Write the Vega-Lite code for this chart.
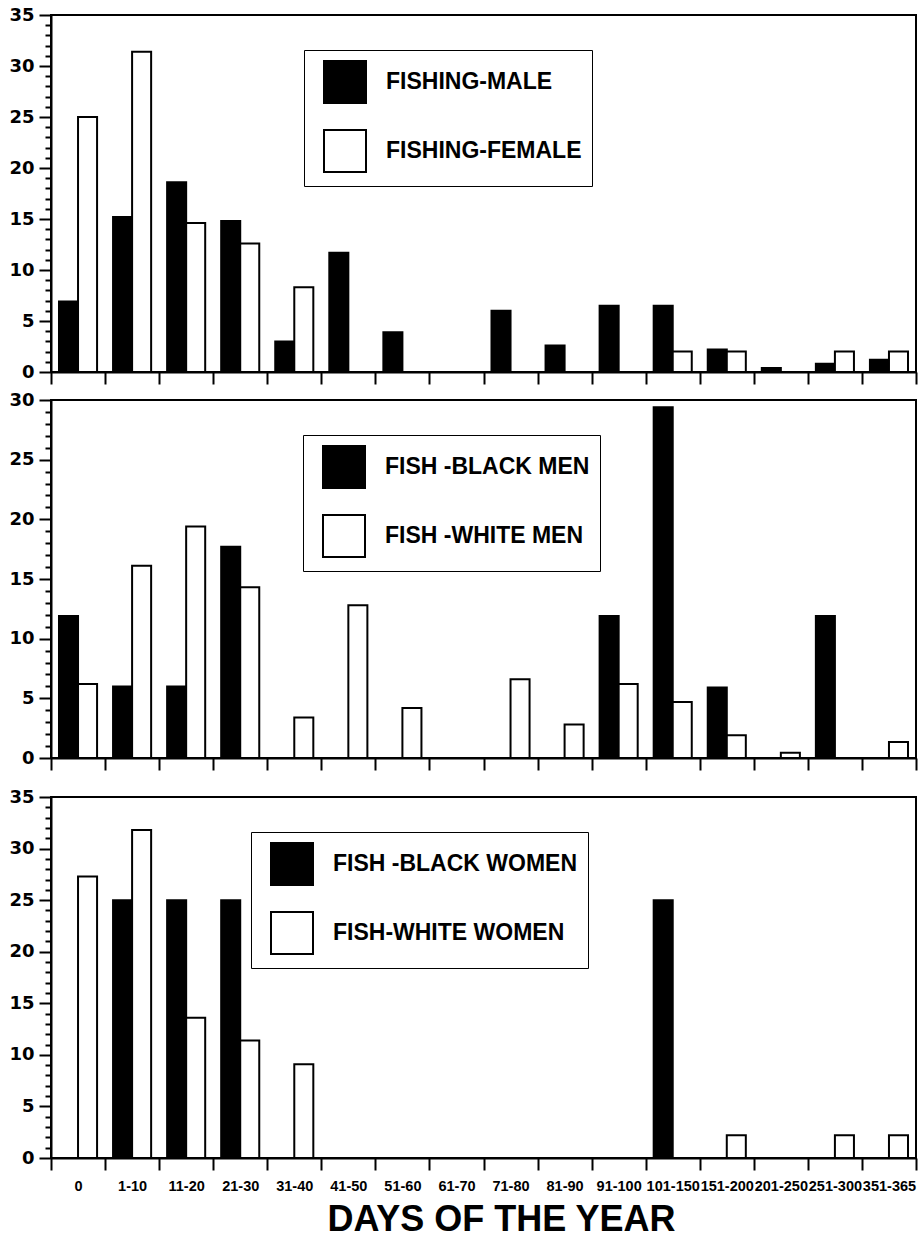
{
  "$schema": "https://vega.github.io/schema/vega-lite/v6.json",
  "padding": {"left": 7, "top": 5, "right": 0, "bottom": 0},
  "background": "white",
  "config": {
    "view": {"stroke": "black", "strokeWidth": 2},
    "bar": {"stroke": "black", "strokeWidth": 2},
    "axis": {"domainColor": "black", "domainWidth": 2, "tickColor": "black", "tickWidth": 2, "grid": false, "labelColor": "black", "titleColor": "black"},
    "axisY": {"labelFont": "DejaVu Sans", "labelFontWeight": "bold", "labelFontSize": 18, "labelPadding": 5},
    "axisX": {"labelFont": "Liberation Sans", "labelFontWeight": "bold", "labelFontSize": 14.5, "labelAngle": 0, "tickSize": 12, "labelPadding": 9, "tickBand": "extent", "titleFont": "Liberation Sans", "titleFontWeight": "bold", "titleFontSize": 36},
    "legend": {"orient": "none", "title": null, "symbolType": "square", "symbolSize": 1764, "symbolStrokeColor": "black", "symbolStrokeWidth": 2, "rowPadding": 19, "labelOffset": 19, "symbolOffset": 9, "padding": 10, "strokeColor": "black", "labelFont": "Liberation Sans", "labelFontWeight": "bold", "labelFontSize": 23, "labelColor": "black", "labelLimit": 500}
  },
  "datasets": {
    "p1": [
      {"days": "0", "series": "FISHING-MALE", "value": 6.9},
      {"days": "1-10", "series": "FISHING-MALE", "value": 15.2},
      {"days": "11-20", "series": "FISHING-MALE", "value": 18.6},
      {"days": "21-30", "series": "FISHING-MALE", "value": 14.8},
      {"days": "31-40", "series": "FISHING-MALE", "value": 3.0},
      {"days": "41-50", "series": "FISHING-MALE", "value": 11.7},
      {"days": "51-60", "series": "FISHING-MALE", "value": 3.9},
      {"days": "71-80", "series": "FISHING-MALE", "value": 6.0},
      {"days": "81-90", "series": "FISHING-MALE", "value": 2.6},
      {"days": "91-100", "series": "FISHING-MALE", "value": 6.5},
      {"days": "101-150", "series": "FISHING-MALE", "value": 6.5},
      {"days": "151-200", "series": "FISHING-MALE", "value": 2.2},
      {"days": "201-250", "series": "FISHING-MALE", "value": 0.4},
      {"days": "251-300", "series": "FISHING-MALE", "value": 0.8},
      {"days": "351-365", "series": "FISHING-MALE", "value": 1.2},
      {"days": "0", "series": "FISHING-FEMALE", "value": 25.0},
      {"days": "1-10", "series": "FISHING-FEMALE", "value": 31.4},
      {"days": "11-20", "series": "FISHING-FEMALE", "value": 14.6},
      {"days": "21-30", "series": "FISHING-FEMALE", "value": 12.6},
      {"days": "31-40", "series": "FISHING-FEMALE", "value": 8.3},
      {"days": "101-150", "series": "FISHING-FEMALE", "value": 2.0},
      {"days": "151-200", "series": "FISHING-FEMALE", "value": 2.0},
      {"days": "251-300", "series": "FISHING-FEMALE", "value": 2.0},
      {"days": "351-365", "series": "FISHING-FEMALE", "value": 2.0}
    ],
    "p2": [
      {"days": "0", "series": "FISH -BLACK MEN", "value": 11.9},
      {"days": "1-10", "series": "FISH -BLACK MEN", "value": 6.0},
      {"days": "11-20", "series": "FISH -BLACK MEN", "value": 6.0},
      {"days": "21-30", "series": "FISH -BLACK MEN", "value": 17.7},
      {"days": "91-100", "series": "FISH -BLACK MEN", "value": 11.9},
      {"days": "101-150", "series": "FISH -BLACK MEN", "value": 29.4},
      {"days": "151-200", "series": "FISH -BLACK MEN", "value": 5.9},
      {"days": "251-300", "series": "FISH -BLACK MEN", "value": 11.9},
      {"days": "0", "series": "FISH -WHITE MEN", "value": 6.2},
      {"days": "1-10", "series": "FISH -WHITE MEN", "value": 16.1},
      {"days": "11-20", "series": "FISH -WHITE MEN", "value": 19.4},
      {"days": "21-30", "series": "FISH -WHITE MEN", "value": 14.3},
      {"days": "31-40", "series": "FISH -WHITE MEN", "value": 3.4},
      {"days": "41-50", "series": "FISH -WHITE MEN", "value": 12.8},
      {"days": "51-60", "series": "FISH -WHITE MEN", "value": 4.2},
      {"days": "71-80", "series": "FISH -WHITE MEN", "value": 6.6},
      {"days": "81-90", "series": "FISH -WHITE MEN", "value": 2.8},
      {"days": "91-100", "series": "FISH -WHITE MEN", "value": 6.2},
      {"days": "101-150", "series": "FISH -WHITE MEN", "value": 4.7},
      {"days": "151-200", "series": "FISH -WHITE MEN", "value": 1.9},
      {"days": "201-250", "series": "FISH -WHITE MEN", "value": 0.45},
      {"days": "351-365", "series": "FISH -WHITE MEN", "value": 1.35}
    ],
    "p3": [
      {"days": "1-10", "series": "FISH -BLACK WOMEN", "value": 25},
      {"days": "11-20", "series": "FISH -BLACK WOMEN", "value": 25},
      {"days": "21-30", "series": "FISH -BLACK WOMEN", "value": 25},
      {"days": "101-150", "series": "FISH -BLACK WOMEN", "value": 25},
      {"days": "0", "series": "FISH-WHITE WOMEN", "value": 27.3},
      {"days": "1-10", "series": "FISH-WHITE WOMEN", "value": 31.8},
      {"days": "11-20", "series": "FISH-WHITE WOMEN", "value": 13.6},
      {"days": "21-30", "series": "FISH-WHITE WOMEN", "value": 11.4},
      {"days": "31-40", "series": "FISH-WHITE WOMEN", "value": 9.1},
      {"days": "151-200", "series": "FISH-WHITE WOMEN", "value": 2.2},
      {"days": "251-300", "series": "FISH-WHITE WOMEN", "value": 2.2},
      {"days": "351-365", "series": "FISH-WHITE WOMEN", "value": 2.2}
    ]
  },
  "spacing": 15,
  "resolve": {"scale": {"fill": "independent", "xOffset": "independent", "y": "independent"}, "legend": {"fill": "independent"}},
  "vconcat": [
    {
      "spacing": 4,
      "resolve": {"scale": {"fill": "independent", "xOffset": "independent", "y": "independent"}, "legend": {"fill": "independent"}},
      "vconcat": [
        {
          "data": {"name": "p1"},
          "width": 865,
          "height": 357,
          "mark": {"type": "bar"},
          "encoding": {
            "x": {"field": "days", "type": "nominal", "sort": ["0", "1-10", "11-20", "21-30", "31-40", "41-50", "51-60", "61-70", "71-80", "81-90", "91-100", "101-150", "151-200", "201-250", "251-300", "351-365"], "scale": {"domain": ["0", "1-10", "11-20", "21-30", "31-40", "41-50", "51-60", "61-70", "71-80", "81-90", "91-100", "101-150", "151-200", "201-250", "251-300", "351-365"], "paddingInner": 0, "paddingOuter": 0}, "axis": {"labels": false, "title": null}},
            "xOffset": {"field": "series", "type": "nominal", "scale": {"domain": ["FISHING-MALE", "FISHING-FEMALE"], "paddingInner": 0, "paddingOuter": 0.42}},
            "y": {"field": "value", "type": "quantitative", "scale": {"domain": [0, 35], "nice": false}, "axis": {"title": null, "values": [0,1,2,3,4,5,6,7,8,9,10,11,12,13,14,15,16,17,18,19,20,21,22,23,24,25,26,27,28,29,30,31,32,33,34,35], "labelExpr": "datum.value % 5 === 0 ? datum.label : ''", "tickSize": {"condition": {"test": "datum.value % 5 !== 0", "value": 6}, "value": 12}}},
            "fill": {"field": "series", "type": "nominal", "scale": {"domain": ["FISHING-MALE", "FISHING-FEMALE"], "range": ["black", "white"]}, "legend": {"legendX": 253, "legendY": 35}}
          }
        },
        {
          "data": {"name": "p2"},
          "width": 865,
          "height": 358,
          "mark": {"type": "bar"},
          "encoding": {
            "x": {"field": "days", "type": "nominal", "sort": ["0", "1-10", "11-20", "21-30", "31-40", "41-50", "51-60", "61-70", "71-80", "81-90", "91-100", "101-150", "151-200", "201-250", "251-300", "351-365"], "scale": {"domain": ["0", "1-10", "11-20", "21-30", "31-40", "41-50", "51-60", "61-70", "71-80", "81-90", "91-100", "101-150", "151-200", "201-250", "251-300", "351-365"], "paddingInner": 0, "paddingOuter": 0}, "axis": {"labels": false, "title": null}},
            "xOffset": {"field": "series", "type": "nominal", "scale": {"domain": ["FISH -BLACK MEN", "FISH -WHITE MEN"], "paddingInner": 0, "paddingOuter": 0.42}},
            "y": {"field": "value", "type": "quantitative", "scale": {"domain": [0, 30], "nice": false}, "axis": {"title": null, "values": [0,1,2,3,4,5,6,7,8,9,10,11,12,13,14,15,16,17,18,19,20,21,22,23,24,25,26,27,28,29,30], "labelExpr": "datum.value % 5 === 0 ? datum.label : ''", "tickSize": {"condition": {"test": "datum.value % 5 !== 0", "value": 6}, "value": 12}}},
            "fill": {"field": "series", "type": "nominal", "scale": {"domain": ["FISH -BLACK MEN", "FISH -WHITE MEN"], "range": ["black", "white"]}, "legend": {"legendX": 252, "legendY": 35}}
          }
        }
      ]
    },
    {
      "data": {"name": "p3"},
      "width": 865,
      "height": 361,
      "mark": {"type": "bar"},
      "encoding": {
        "x": {"field": "days", "type": "nominal", "sort": ["0", "1-10", "11-20", "21-30", "31-40", "41-50", "51-60", "61-70", "71-80", "81-90", "91-100", "101-150", "151-200", "201-250", "251-300", "351-365"], "scale": {"domain": ["0", "1-10", "11-20", "21-30", "31-40", "41-50", "51-60", "61-70", "71-80", "81-90", "91-100", "101-150", "151-200", "201-250", "251-300", "351-365"], "paddingInner": 0, "paddingOuter": 0}, "axis": {"title": "DAYS OF THE YEAR", "titleX": 450, "titleY": 72, "titleBaseline": "alphabetic", "titleAlign": "center"}},
        "xOffset": {"field": "series", "type": "nominal", "scale": {"domain": ["FISH -BLACK WOMEN", "FISH-WHITE WOMEN"], "paddingInner": 0, "paddingOuter": 0.42}},
        "y": {"field": "value", "type": "quantitative", "scale": {"domain": [0, 35], "nice": false}, "axis": {"title": null, "values": [0,1,2,3,4,5,6,7,8,9,10,11,12,13,14,15,16,17,18,19,20,21,22,23,24,25,26,27,28,29,30,31,32,33,34,35], "labelExpr": "datum.value % 5 === 0 ? datum.label : ''", "tickSize": {"condition": {"test": "datum.value % 5 !== 0", "value": 6}, "value": 12}}},
        "fill": {"field": "series", "type": "nominal", "scale": {"domain": ["FISH -BLACK WOMEN", "FISH-WHITE WOMEN"], "range": ["black", "white"]}, "legend": {"legendX": 200, "legendY": 35}}
      }
    }
  ]
}
